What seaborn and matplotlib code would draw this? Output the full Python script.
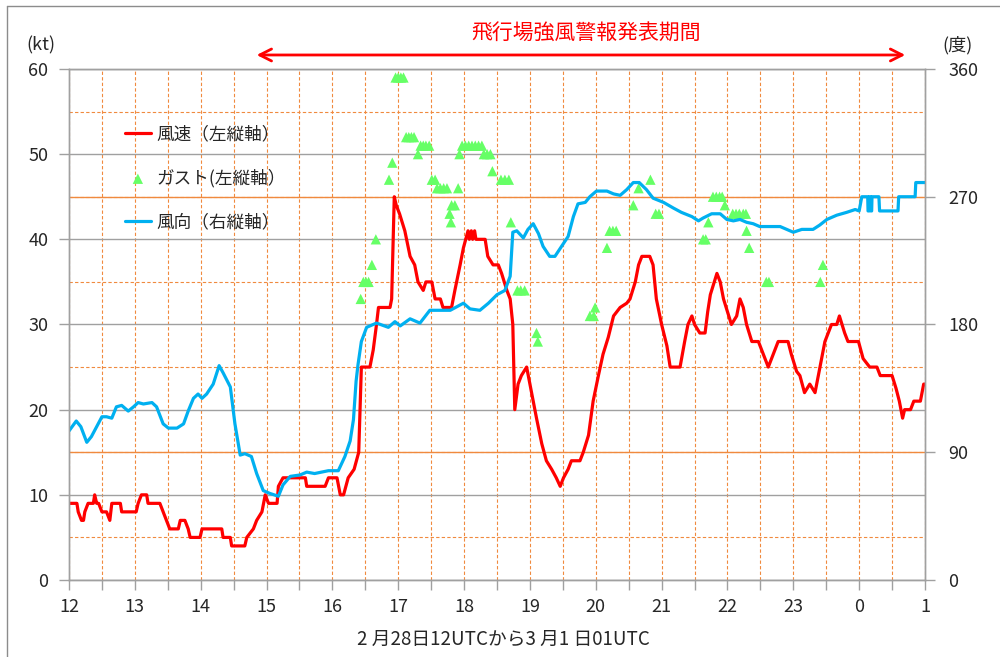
import matplotlib
matplotlib.use('Agg')
import matplotlib.pyplot as plt
from matplotlib.ticker import MultipleLocator
from matplotlib.lines import Line2D
import pandas as pd
import seaborn as sns

sns.set_style('white')
plt.rcParams['font.family'] = ['Noto Sans CJK JP', 'DejaVu Sans']

# time axis: hours from 28th 12UTC (24 = 1st 00UTC)
speed_t = [12.00, 12.12, 12.14, 12.19, 12.22, 12.24, 12.29, 12.37, 12.39, 12.42,
           12.45, 12.50, 12.57, 12.62, 12.65, 12.78, 12.80, 13.02, 13.05, 13.10,
           13.18, 13.20, 13.38, 13.43, 13.48, 13.53, 13.66, 13.69, 13.76, 13.81,
           13.84, 13.99, 14.02, 14.32, 14.34, 14.45, 14.47, 14.67, 14.70, 14.80,
           14.85, 14.93, 14.98, 15.03, 15.16, 15.18, 15.25, 15.59, 15.61, 15.89,
           15.94, 16.07, 16.12, 16.17, 16.24, 16.33, 16.40, 16.44, 16.57, 16.62,
           16.67, 16.70, 16.875, 16.90, 16.94, 16.97, 17.02, 17.10, 17.18, 17.25,
           17.30, 17.38, 17.42, 17.51, 17.56, 17.64, 17.68, 17.81, 17.86, 17.94,
           17.99, 18.06, 18.08, 18.11, 18.13, 18.16, 18.18, 18.32, 18.36, 18.44,
           18.52, 18.57, 18.65, 18.70, 18.74, 18.77, 18.82, 18.87, 18.95, 19.00,
           19.05, 19.10, 19.18, 19.25, 19.33, 19.40, 19.46, 19.51, 19.58, 19.63,
           19.76, 19.81, 19.89, 19.96, 20.04, 20.11, 20.19, 20.27, 20.37, 20.47,
           20.52, 20.60, 20.65, 20.70, 20.82, 20.87, 20.92, 21.00, 21.08, 21.13,
           21.28, 21.35, 21.40, 21.46, 21.50, 21.58, 21.66, 21.70, 21.74, 21.84,
           21.89, 21.94, 22.02, 22.06, 22.14, 22.19, 22.24, 22.29, 22.37, 22.47,
           22.52, 22.57, 22.62, 22.67, 22.72, 22.77, 22.92, 22.97, 23.05, 23.10,
           23.17, 23.25, 23.33, 23.38, 23.43, 23.48, 23.53, 23.58, 23.66, 23.70,
           23.74, 23.78, 23.83, 23.99, 24.06, 24.16, 24.27, 24.32, 24.50, 24.56,
           24.61, 24.66, 24.69, 24.78, 24.83, 24.93, 24.98, 25.00]
speed_kt = [9, 9, 8, 7, 7, 8, 9, 9, 10, 9,
            9, 8, 8, 7, 9, 9, 8, 8, 9, 10,
            10, 9, 9, 8, 7, 6, 6, 7, 7, 6,
            5, 5, 6, 6, 5, 5, 4, 4, 5, 6,
            7, 8, 10, 9, 9, 11, 12, 12, 11, 11,
            12, 12, 10, 10, 12, 13, 15, 25, 25, 27,
            30, 32, 32, 33, 45, 44, 43, 41, 38, 37,
            35, 34, 35, 35, 33, 33, 32, 32, 34, 37,
            39, 41, 40, 41, 40, 41, 40, 40, 38, 37,
            37, 36, 34, 33, 30, 20, 23, 24, 25, 23,
            21, 19, 16, 14, 13, 12, 11, 12, 13, 14,
            14, 15, 17, 21, 24, 26.5, 28.5, 31, 32, 32.5,
            33, 35, 37, 38, 38, 37, 33, 30, 27.5, 25,
            25, 28, 30, 31, 30, 29, 29, 31.5, 33.5, 36,
            35, 33, 31, 30, 31, 33, 32, 30, 28, 28,
            27, 26, 25, 26, 27, 28, 28, 26.5, 24.5, 24,
            22, 23, 22, 24, 26, 28, 29, 30, 30, 31,
            30, 29, 28, 28, 26, 25, 25, 24, 24, 22.5,
            21, 19, 20, 20, 21, 21, 23, 23]

dir_t = [12.00, 12.11, 12.18, 12.27, 12.34, 12.42, 12.50, 12.57, 12.65, 12.72,
         12.80, 12.90, 12.98, 13.05, 13.13, 13.26, 13.33, 13.43, 13.51, 13.64,
         13.74, 13.81, 13.89, 13.96, 14.02, 14.09, 14.19, 14.28, 14.34, 14.45,
         14.52, 14.60, 14.67, 14.77, 14.85, 14.95, 15.05, 15.18, 15.25, 15.36,
         15.51, 15.61, 15.73, 15.94, 16.09, 16.19, 16.27, 16.32, 16.36, 16.39,
         16.44, 16.52, 16.67, 16.85, 16.95, 17.03, 17.18, 17.33, 17.48, 17.63,
         17.79, 17.99, 18.09, 18.24, 18.37, 18.50, 18.62, 18.70, 18.74, 18.80,
         18.90, 18.97, 19.05, 19.13, 19.20, 19.30, 19.38, 19.48, 19.58, 19.66,
         19.73, 19.84, 19.91, 20.01, 20.17, 20.27, 20.37, 20.47, 20.57, 20.66,
         20.77, 20.87, 21.03, 21.18, 21.30, 21.46, 21.56, 21.63, 21.76, 21.89,
         21.99, 22.09, 22.19, 22.29, 22.39, 22.49, 22.80, 22.90, 23.00, 23.13,
         23.30, 23.40, 23.51, 23.66, 23.81, 23.94, 24.00, 24.04, 24.13, 24.135,
         24.15, 24.155, 24.17, 24.175, 24.19, 24.195, 24.30, 24.31, 24.59, 24.60,
         24.85, 24.86, 25.00]
dir_deg = [105, 112, 108, 97, 101, 108, 115, 115, 114, 122,
           123, 119, 122, 125, 124, 125, 122, 110, 107, 107,
           110, 119, 128, 131, 128, 131, 138, 151, 146, 136,
           110, 88, 89, 87, 75, 63, 61, 59, 67, 73,
           74, 76, 75, 77, 77, 87, 98, 113, 140, 152,
           168, 178, 181, 178, 182, 179, 184, 181, 190, 190,
           190, 195, 191, 190, 195, 201, 204, 214, 245, 246,
           241, 247, 251, 244, 235, 228, 228, 235, 242, 256,
           265, 266, 270, 274, 274, 272, 271, 275, 280, 280,
           275, 269, 266, 262, 259, 256, 253, 255, 258, 258,
           254, 253, 254, 252, 251, 249, 249, 247, 245, 247,
           247, 250, 254, 257, 259, 261, 260, 270, 270, 260,
           260, 270, 270, 260, 260, 270, 270, 260, 260, 270,
           270, 280, 280]

gust_t = [16.43, 16.47, 16.51, 16.55, 16.60, 16.66, 16.86, 16.91,
          16.96, 17.00, 17.04, 17.08, 17.12, 17.16, 17.20, 17.24, 17.30,
          17.34, 17.38, 17.42, 17.47, 17.51, 17.56, 17.59, 17.64, 17.69, 17.74,
          17.78, 17.80, 17.81, 17.86, 17.91, 17.93,
          17.97, 18.02, 18.07, 18.12, 18.17, 18.22, 18.27, 18.30, 18.35, 18.40,
          18.43, 18.56, 18.62, 18.68, 18.71, 18.81, 18.86, 18.92, 19.10, 19.12,
          19.91, 19.97, 19.99, 20.17, 20.21, 20.26, 20.31, 20.57, 20.65, 20.83,
          20.91, 20.96, 21.63, 21.67, 21.71, 21.78, 21.83, 21.88, 21.92, 21.96,
          22.08, 22.13, 22.18, 22.24, 22.28, 22.29, 22.33, 22.59, 22.63,
          23.41, 23.45]
gust_kt = [33, 35, 35, 35, 37, 40, 47, 49,
           59, 59, 59, 59, 52, 52, 52, 52, 50,
           51, 51, 51, 51, 47, 47, 46, 46, 46, 46,
           43, 42, 44, 44, 46, 50,
           51, 51, 51, 51, 51, 51, 51, 50, 50, 50,
           48, 47, 47, 47, 42, 34, 34, 34, 29, 28,
           31, 31, 32, 39, 41, 41, 41, 44, 46, 47,
           43, 43, 40, 40, 42, 45, 45, 45, 45, 44,
           43, 43, 43, 43, 43, 41, 39, 35, 35,
           35, 37]

hour_ticks = list(range(12, 26))
hour_labels = ['12', '13', '14', '15', '16', '17', '18', '19', '20', '21',
               '22', '23', '0', '1']
dir_ticks = [0, 90, 180, 270, 360]
warn_start, warn_end = 14.85, 24.70

RED = '#FF0000'
BLUE = '#00B0F0'
GREEN = '#66FF66'
ORANGE = '#F08A3E'
GRAY = '#A0A0A0'
TXT = '#262626'

speed_df = pd.DataFrame({'t': speed_t, 'kt': speed_kt})
dir_df = pd.DataFrame({'t': dir_t, 'deg': dir_deg})
gust_df = pd.DataFrame({'t': gust_t, 'kt': gust_kt})

fig = plt.figure(figsize=(10, 6.57), dpi=100)
ax = fig.add_axes([0.069, 0.1172, 0.856, 0.7778])
ax2 = ax.twinx()

sns.lineplot(data=speed_df, x='t', y='kt', ax=ax, color=RED, lw=2.3,
             sort=False, estimator=None, label='風速（左縦軸）', legend=False)
sns.scatterplot(data=gust_df, x='t', y='kt', ax=ax, marker='^', s=55,
                color=GREEN, edgecolor='none', label='ガスト(左縦軸）',
                legend=False, zorder=3)
sns.lineplot(data=dir_df, x='t', y='deg', ax=ax2, color=BLUE, lw=2.3,
             sort=False, estimator=None, label='風向（右縦軸）', legend=False)

ax.set_xlim(12, 25)
ax.set_ylim(0, 60)
ax2.set_ylim(0, 360)
ax.set_xticks(hour_ticks)
ax.set_xticklabels(hour_labels)
ax.xaxis.set_minor_locator(MultipleLocator(0.5))
ax.set_yticks(range(0, 61, 10))
ax.yaxis.set_minor_locator(MultipleLocator(5))
ax2.set_yticks(dir_ticks)
for a in (ax, ax2):
    a.set_xlabel('')
    a.set_ylabel('')

# grid
ax.set_axisbelow(True)
ax.grid(False)
ax2.grid(False)
ax.xaxis.grid(True, which='both', color=ORANGE, ls=(0, (3, 2)), lw=0.8)
ax.yaxis.grid(True, which='minor', color=ORANGE, ls=(0, (3, 2)), lw=0.8)
ax.yaxis.grid(True, which='major', color=GRAY, lw=1.0)
for d in dir_ticks[1:-1]:
    if d != 180:
        ax.axhline(d / 6, color=ORANGE, lw=1.0, zorder=0.6)

ax.tick_params(axis='x', which='both', bottom=True, direction='out', length=7,
               width=1, color=GRAY, pad=6, labelsize=13, labelcolor=TXT)
ax.tick_params(axis='y', which='major', left=True, direction='out', length=7,
               width=1, color=GRAY, pad=8, labelsize=13, labelcolor=TXT)
ax.tick_params(axis='y', which='minor', length=0)
ax2.tick_params(axis='y', right=True, direction='out', length=7, width=1,
                color=GRAY, pad=10, labelsize=13, labelcolor=TXT)
for a in (ax, ax2):
    for s in a.spines.values():
        s.set_color(GRAY)
        s.set_linewidth(1.0)

h1, l1 = ax.get_legend_handles_labels()
h2, l2 = ax2.get_legend_handles_labels()
ax2.legend(h1 + h2, l1 + l2, loc='upper left', bbox_to_anchor=(0.065, 0.89),
           frameon=False, fontsize=12.7, handlelength=1.5, handletextpad=0.3,
           labelspacing=1.45, borderaxespad=0, borderpad=0)

# warning period arrow and title
ax.annotate('', xy=(warn_end, 1.0274), xytext=(warn_start, 1.0274),
            xycoords=('data', 'axes fraction'), annotation_clip=False,
            arrowprops=dict(arrowstyle='<->,head_length=0.85,head_width=0.43',
                            color=RED, lw=2, shrinkA=0, shrinkB=0))
fig.text(0.586, 1 - 33 / 657, '飛行場強風警報発表期間', color=RED,
         fontsize=15, ha='center', va='center')
fig.text(0.041, 1 - 45 / 657, '(kt)', color=TXT, fontsize=13,
         ha='center', va='center')
fig.text(0.958, 1 - 45 / 657, '(度)', color=TXT, fontsize=13,
         ha='center', va='center')
fig.text(0.503, 1 - 639 / 657, '2 月28日12UTCから3 月1 日01UTC', color=TXT,
         fontsize=13.5, ha='center', va='center')

# chart frame (left and top edges visible)
fig.add_artist(Line2D([0.007, 1.0], [1 - 6 / 657, 1 - 6 / 657],
                      transform=fig.transFigure, color='#8C8C8C', lw=1))
fig.add_artist(Line2D([0.007, 0.007], [0, 1 - 6 / 657],
                      transform=fig.transFigure, color='#8C8C8C', lw=1))

fig.savefig('out.png', dpi=100)
